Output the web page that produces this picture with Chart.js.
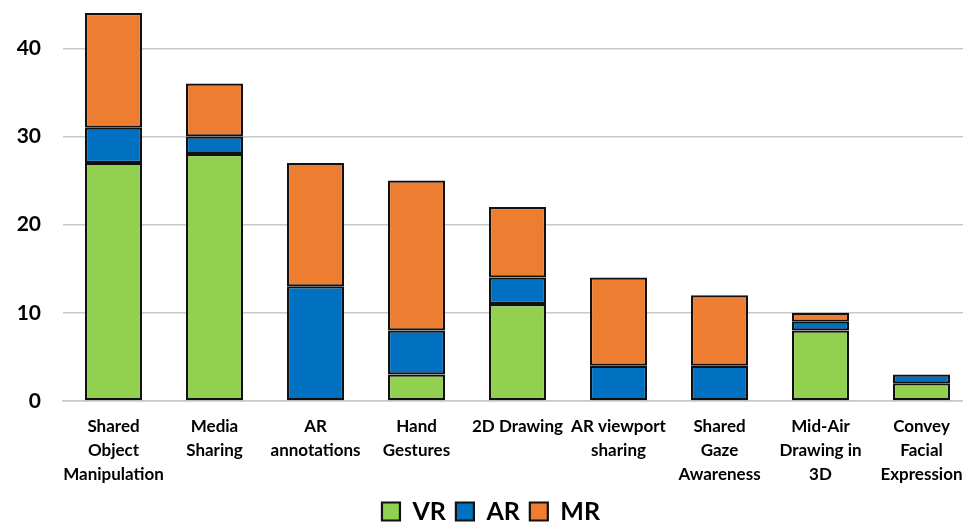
<!DOCTYPE html>
<html>
<head>
<meta charset="utf-8">
<script src="https://cdn.jsdelivr.net/npm/chart.js@4.4.0/dist/chart.umd.min.js"></script>
<style>
  html, body { margin: 0; padding: 0; background: #fff; overflow: hidden; }
  #wrap { width: 972px; height: 527px; }
</style>
</head>
<body>
<div id="wrap"><canvas id="chart"></canvas></div>
<script>
const categories = [
  ['Shared', 'Object', 'Manipulation'],
  ['Media', 'Sharing'],
  ['AR', 'annotations'],
  ['Hand', 'Gestures'],
  ['2D Drawing'],
  ['AR viewport', 'sharing'],
  ['Shared', 'Gaze', 'Awareness'],
  ['Mid-Air', 'Drawing in', '3D'],
  ['Convey', 'Facial', 'Expression']
];
const vrValues = [27, 28, 0, 3, 11, 0, 0, 8, 2];
const arValues = [4, 2, 13, 5, 3, 4, 4, 1, 1];
const mrValues = [13, 6, 14, 17, 8, 10, 8, 1, 0];
const yTicks = [0, 10, 20, 30, 40];

const FONT = "'Comic Sans MS', Lato, 'DejaVu Sans', sans-serif";

function series(label, data, color) {
  return {
    label: label,
    data: data,
    backgroundColor: color,
    borderColor: '#111',
    borderWidth: 2.2,
    borderSkipped: false,
    categoryPercentage: 1,
    barPercentage: 0.565
  };
}

new Chart(document.getElementById('chart').getContext('2d'), {
  type: 'bar',
  data: {
    labels: categories,
    datasets: [
      series('VR', vrValues, '#92D050'),
      series('AR', arValues, '#0070C0'),
      series('MR', mrValues, '#ED7D31')
    ]
  },
  options: {
    responsive: true,
    maintainAspectRatio: false,
    animation: false,
    layout: { padding: { top: 13, left: 10, right: 0, bottom: -7 } },
    scales: {
      x: {
        stacked: true,
        grid: { display: false, drawTicks: false },
        border: { color: '#c8c8c8', width: 1.5 },
        ticks: {
          color: '#000',
          font: { family: FONT, size: 17, weight: 'bold', lineHeight: 1.42 },
          maxRotation: 0,
          autoSkip: false,
          padding: 13
        },
        afterFit: s => {
          s.paddingLeft = 0;
          s.paddingRight = 0;
          s.height = 88;
        }
      },
      y: {
        stacked: true,
        min: 0,
        max: 44,
        afterBuildTicks: s => { s.ticks = yTicks.map(v => ({ value: v })); },
        grid: { color: '#c8c8c8', lineWidth: 1.5, drawTicks: false },
        border: { display: false },
        ticks: {
          color: '#000',
          font: { family: FONT, size: 21, weight: 'bold' },
          padding: 22
        },
        afterFit: s => {
          s.paddingTop = 0;
          s.paddingBottom = 0;
          s.width = 53;
        }
      }
    },
    plugins: {
      legend: {
        position: 'bottom',
        labels: {
          color: '#000',
          font: { family: FONT, size: 25, weight: 'bold' },
          boxWidth: 18,
          boxHeight: 18,
          padding: 10
        }
      },
      tooltip: { enabled: false }
    }
  }
});
</script>
</body>
</html>
